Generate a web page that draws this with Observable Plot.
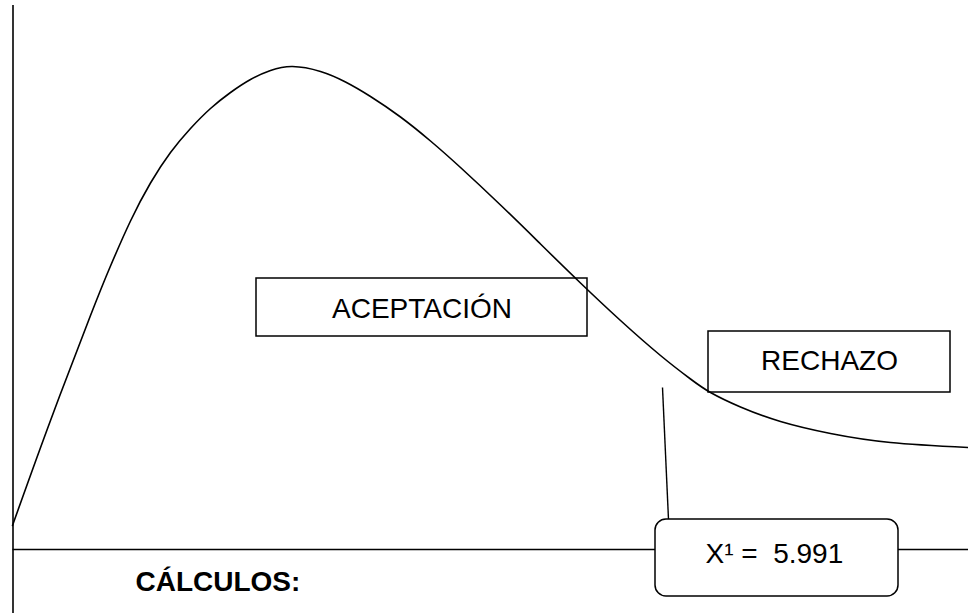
<!DOCTYPE html>
<html>
<head>
<meta charset="utf-8">
<script src="https://cdn.jsdelivr.net/npm/d3@7"></script>
<script src="https://cdn.jsdelivr.net/npm/@observablehq/plot@0.6"></script>
<style>
  html, body { margin: 0; padding: 0; background: #fff; }
  svg text { white-space: pre; }
</style>
</head>
<body>
<div id="chart"></div>
<script>
// Curve (schematic chi-square density), in drawing coordinates (y grows downward)
const curveX = [12, 50, 90, 110, 130, 150, 170, 190, 210, 230, 250, 270, 292, 320, 345, 370, 400, 430, 460, 500, 540, 580, 620, 660, 690, 710, 740, 780, 830, 890, 968];
const curveY = [525, 420, 315, 265.5, 220.5, 182.5, 152, 128, 108, 92, 79, 70, 66, 71, 81.5, 96, 116.5, 140.5, 167, 204.5, 243.5, 282.5, 320, 355, 378.5, 392, 406.5, 421, 433, 442, 447];

// Region labels and their boxes
const regionLabels = ["ACEPTACIÓN", "RECHAZO"];
const regionX1 = [256, 708];
const regionX2 = [587, 950];
const regionY1 = [278, 331];
const regionY2 = [336, 392];
const regionBaseline = [317, 369];

// Critical value box
const criticalLabel = ["X¹ =  5.991"];
const criticalBox = {x1: 655, x2: 898, y1: 519, y2: 596};
const leaderLine = {x1: 662, y1: 387, x2: 668, y2: 519};

// Axes of the drawing
const axisX = 12.5;
const baseY = 549;
const footer = ["CÁLCULOS:"];

const curve = curveX.map((x, i) => ({x, y: curveY[i]}));
const regions = regionLabels.map((label, i) => ({
  label, x1: regionX1[i], x2: regionX2[i], y1: regionY1[i], y2: regionY2[i],
  cx: (regionX1[i] + regionX2[i]) / 2, by: regionBaseline[i]
}));

const chart = Plot.plot({
  width: 968,
  height: 613,
  margin: 0,
  x: {domain: [0, 968], range: [0, 968], axis: null},
  y: {domain: [0, 613], range: [0, 613], axis: null},
  style: {background: "#fff", fontFamily: "'Liberation Sans', Arial, sans-serif", overflow: "visible"},
  marks: [
    Plot.ruleX([axisX], {y1: 5, y2: 613, stroke: "#000", strokeWidth: 1.6}),
    Plot.ruleY([baseY], {x1: axisX, x2: 968, stroke: "#000", strokeWidth: 1.6}),
    Plot.link([leaderLine], {x1: "x1", y1: "y1", x2: "x2", y2: "y2", stroke: "#000", strokeWidth: 1.4}),
    Plot.rect([criticalBox], {x1: "x1", x2: "x2", y1: "y1", y2: "y2", fill: "#fff", stroke: "#000", strokeWidth: 1.5, rx: 11}),
    Plot.rect(regions, {x1: "x1", x2: "x2", y1: "y1", y2: "y2", fill: "none", stroke: "#000", strokeWidth: 1.5}),
    Plot.line(curve, {x: "x", y: "y", curve: "natural", stroke: "#000", strokeWidth: 1.6}),
    Plot.text(regions, {x: "cx", y: "by", text: "label", textAnchor: "middle", lineAnchor: "bottom", fontSize: 28, fill: "#000"}),
    Plot.text(criticalLabel, {x: 705, y: 562, text: d => d, textAnchor: "start", lineAnchor: "bottom", fontSize: 28, fill: "#000"}),
    Plot.text(footer, {x: 135, y: 590, text: d => d, textAnchor: "start", lineAnchor: "bottom", fontSize: 28, fontWeight: "bold", fill: "#000"})
  ]
});
document.getElementById("chart").appendChild(chart);
</script>
</body>
</html>
